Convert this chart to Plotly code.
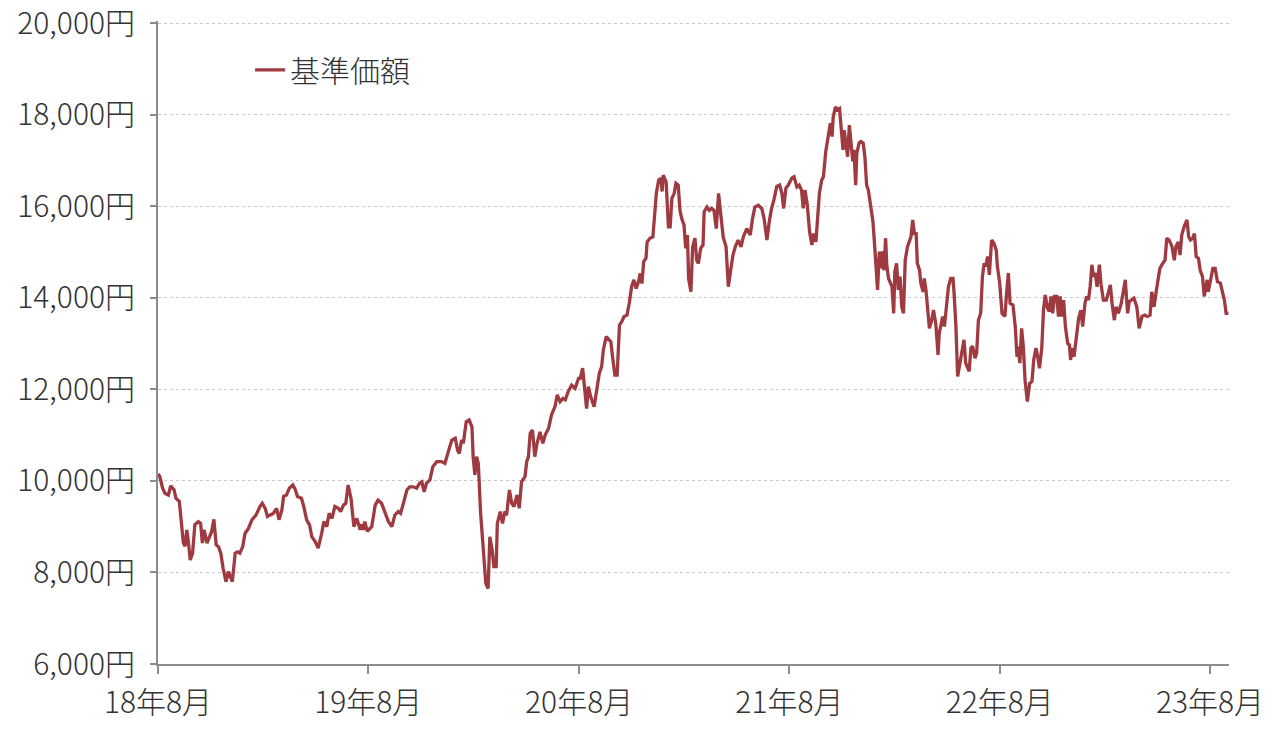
import pandas as pd
import plotly.graph_objects as go

# elapsed days since 2018-08-01 for each reading
days = [
    0, 3, 8, 12, 18, 22, 28, 31, 37, 41,
    44, 47, 50, 53, 56, 60, 64, 70, 74, 77,
    80, 85, 89, 93, 97, 101, 105, 109, 113, 118,
    122, 125, 129, 134, 138, 142, 147, 151, 157, 163,
    170, 177, 181, 186, 190, 194, 200, 206, 210, 215,
    218, 223, 228, 234, 238, 242, 249, 253, 258, 263,
    267, 273, 278, 284, 288, 293, 297, 302, 307, 313,
    317, 322, 326, 330, 335, 340, 345, 351, 354, 356,
    359, 363, 371, 377, 382, 388, 394, 400, 406, 411,
    417, 421, 426, 432, 437, 443, 449, 454, 458, 462,
    466, 472, 477, 484, 492, 498, 504, 510, 516, 520,
    523, 527, 530, 535, 540, 545, 547, 550, 553, 556,
    560, 564, 566, 569, 573, 576, 580, 583, 587, 589,
    594, 598, 602, 605, 610, 614, 618, 623, 627, 631,
    637, 640, 643, 646, 650, 654, 658, 663, 668, 672,
    678, 683, 689, 693, 698, 703, 707, 712, 718, 724,
    730, 733, 737, 741, 744, 747, 751, 757, 762, 766,
    770, 773, 778, 782, 786, 789, 793, 797, 801, 805,
    809, 814, 818, 822, 826, 830, 834, 837, 840, 843,
    847, 849, 854, 859, 861, 865, 869, 873, 875, 877,
    882, 884, 886, 889, 892, 896, 899, 903, 906, 909,
    913, 916, 919, 921, 925, 928, 932, 935, 938, 942,
    946, 948, 953, 957, 961, 965, 969, 973, 977, 981,
    986, 990, 994, 998, 1002, 1007, 1012, 1016, 1022, 1028,
    1032, 1036, 1042, 1048, 1052, 1057, 1061, 1065, 1069, 1074,
    1079, 1083, 1086, 1090, 1094, 1100, 1104, 1109, 1113, 1117,
    1120, 1123, 1127, 1131, 1135, 1138, 1142, 1145, 1148, 1152,
    1155, 1159, 1164, 1167, 1170, 1172, 1176, 1179, 1183, 1186,
    1189, 1191, 1194, 1197, 1200, 1203, 1206, 1208, 1211, 1213,
    1217, 1220, 1224, 1227, 1230, 1233, 1236, 1241, 1244, 1246,
    1249, 1252, 1255, 1257, 1260, 1263, 1265, 1268, 1271, 1274,
    1277, 1279, 1282, 1285, 1288, 1291, 1294, 1297, 1301, 1304,
    1307, 1310, 1313, 1316, 1318, 1322, 1324, 1328, 1330, 1333,
    1336, 1339, 1343, 1346, 1350, 1354, 1356, 1359, 1362, 1365,
    1369, 1372, 1376, 1380, 1382, 1385, 1388, 1391, 1395, 1399,
    1402, 1406, 1408, 1411, 1414, 1418, 1421, 1424, 1428, 1431,
    1434, 1437, 1440, 1443, 1447, 1451, 1455, 1457, 1461, 1465,
    1470, 1473, 1476, 1479, 1484, 1488, 1491, 1493, 1496, 1499,
    1502, 1505, 1509, 1513, 1517, 1520, 1524, 1527, 1530, 1534,
    1537, 1540, 1544, 1547, 1550, 1553, 1556, 1560, 1563, 1566,
    1569, 1572, 1575, 1579, 1582, 1584, 1587, 1590, 1594, 1598,
    1602, 1605, 1609, 1612, 1615, 1618, 1621, 1624, 1627, 1630,
    1634, 1637, 1641, 1646, 1650, 1653, 1656, 1660, 1663, 1667,
    1672, 1676, 1679, 1683, 1686, 1690, 1694, 1699, 1703, 1708,
    1713, 1717, 1722, 1725, 1729, 1733, 1735, 1739, 1744, 1748,
    1751, 1755, 1760, 1764, 1767, 1771, 1774, 1777, 1781, 1786,
    1789, 1792, 1796, 1799, 1802, 1806, 1809, 1813, 1816, 1821,
    1823, 1827, 1831, 1835, 1839, 1844, 1848, 1851, 1854, 1858,
]

# 基準価額 (yen)
nav = [
    10150, 10100, 9840, 9730, 9690, 9890, 9800, 9620, 9550, 9070,
    8640, 8570, 8930, 8640, 8270, 8420, 9040, 9110, 9070, 8640,
    8930, 8640, 8780, 8890, 9160, 8600, 8560, 8420, 8090, 7800,
    8020, 7940, 7800, 8420, 8450, 8420, 8560, 8850, 8960, 9150,
    9250, 9440, 9510, 9400, 9220, 9250, 9290, 9400, 9150, 9360,
    9660, 9690, 9840, 9910, 9820, 9660, 9620, 9440, 9150, 9040,
    8780, 8670, 8530, 8850, 9110, 9000, 9290, 9180, 9440, 9400,
    9330, 9470, 9510, 9910, 9620, 9000, 9180, 8930, 9050, 8930,
    9110, 8900, 9000, 9470, 9580, 9510, 9330, 9110, 9000, 9250,
    9330, 9290, 9510, 9800, 9870, 9870, 9840, 9950, 9980, 9760,
    9950, 10020, 10310, 10420, 10420, 10380, 10640, 10890, 10930, 10670,
    10600, 10890, 10820, 11290, 11330, 11180, 10530, 10130, 10530, 10380,
    9290, 8640, 8130, 7760, 7650, 8780, 8490, 8130, 8130, 9070,
    9330, 9070, 9330, 9250, 9800, 9510, 9440, 9690, 9400, 9980,
    10090, 10420, 10530, 11040, 11110, 10530, 10820, 11070, 10820, 11000,
    11150, 11440, 11620, 11880, 11730, 11800, 11770, 11950, 12090, 12020,
    12240, 12240, 12460, 11910, 11580, 12060, 11840, 11620, 11990, 12350,
    12490, 12860, 13150, 13080, 13040, 12710, 12310, 12310, 13400, 13480,
    13590, 13620, 13880, 14240, 14390, 14200, 14350, 14530, 14310, 14790,
    14860, 15220, 15300, 15330, 15620, 16280, 16570, 16610, 16320, 16680,
    16530, 16060, 15550, 15550, 16170, 16280, 16500, 16460, 15910, 15730,
    15590, 15080, 15370, 14420, 14130, 15110, 15300, 14820, 14750, 15080,
    15150, 15880, 15980, 15910, 15950, 15910, 15510, 16280, 15770, 15330,
    15110, 14240, 14600, 14930, 15110, 15260, 15110, 15330, 15510, 15370,
    15730, 15980, 16020, 15950, 15730, 15260, 15660, 15950, 16130, 16430,
    16460, 16280, 15950, 16400, 16460, 16610, 16640, 16420, 16460, 16350,
    15950, 16350, 16030, 15440, 15150, 15400, 15220, 15840, 16280, 16570,
    16640, 17190, 17550, 17810, 17520, 17950, 18170, 18100, 18130, 17590,
    17230, 17660, 17300, 17080, 17770, 17450, 16980, 17230, 16460, 17160,
    17380, 17410, 17380, 17080, 16460, 16350, 16060, 15660, 15120, 14750,
    14170, 15010, 14640, 15010, 14600, 15300, 14710, 14420, 14320, 14240,
    13660, 14570, 14750, 14170, 14460, 13800, 13660, 14820, 15120, 15220,
    15330, 15700, 15400, 15400, 14750, 14600, 14320, 14130, 14420, 14170,
    13660, 13330, 13510, 13730, 13440, 12750, 13220, 13370, 13590, 13370,
    13880, 14240, 14420, 14420, 14060, 13370, 12280, 12500, 12720, 13080,
    12570, 12430, 12390, 12900, 12940, 12680, 12790, 13510, 13660, 14460,
    14750, 14680, 14900, 14500, 15260, 15190, 15040, 14680, 14320, 13660,
    13590, 14100, 14540, 13880, 13840, 13370, 12710, 12930, 12570, 13330,
    12930, 12200, 11730, 12130, 12170, 12640, 12900, 12710, 12460, 12900,
    13730, 14060, 13770, 13700, 14030, 13660, 14030, 14030, 13590, 14030,
    13590, 13950, 13370, 13000, 12970, 12640, 12900, 12710, 13190, 13550,
    13730, 13370, 13880, 14030, 13950, 14240, 14720, 14460, 14540, 14240,
    14720, 14280, 13950, 13950, 14130, 14280, 13880, 13510, 13800, 13660,
    13880, 14170, 14390, 13660, 13920, 13950, 13990, 13800, 13330, 13590,
    13620, 13590, 13620, 14130, 13800, 14170, 14350, 14640, 14750, 14820,
    15300, 15260, 15120, 14820, 15120, 15220, 14930, 15370, 15550, 15700,
    15330, 15260, 15300, 15400, 14900, 14860, 14600, 14460, 14030, 14390,
    14130, 14390, 14640, 14640, 14350, 14320, 14100, 13950, 13660, 13660,
]

start_date = "2018-08-01"
end_date = "2023-09-03"
tick_dates = ["2018-08-01", "2019-08-01", "2020-08-01", "2021-08-01", "2022-08-01", "2023-08-01"]
tick_labels = ["18年8月", "19年8月", "20年8月", "21年8月", "22年8月", "23年8月"]
y_ticks = [6000, 8000, 10000, 12000, 14000, 16000, 18000, 20000]
y_labels = [f"{v:,}円" for v in y_ticks]
y_range = [6000, 20044]
series_name = "基準価額"

assert len(days) == len(nav)
dates = pd.Timestamp(start_date) + pd.to_timedelta(days, unit="D")

FONT = "Noto Sans CJK JP, Noto Sans, sans-serif"
TXT = "#333333"
AX = "#8c8c8c"

fig = go.Figure()
fig.add_trace(go.Scatter(
    x=dates, y=nav, mode="lines", name=series_name,
    line=dict(color="#9e3a40", width=3.3),
))

fig.update_layout(
    width=1280, height=733,
    margin=dict(l=158, r=51, t=21, b=69, autoexpand=False),
    paper_bgcolor="white", plot_bgcolor="white",
    font=dict(family=FONT, size=30, color=TXT, weight=300),
    showlegend=True,
    legend=dict(x=0.086, y=0.924, xanchor="left", yanchor="middle",
                bgcolor="rgba(0,0,0,0)", font=dict(size=30, color=TXT, weight=300)),
)
fig.update_xaxes(
    type="date", range=[start_date, end_date],
    tickvals=tick_dates, ticktext=tick_labels,
    showgrid=False, zeroline=False, automargin=False,
    showline=True, linecolor=AX, linewidth=2,
    ticks="outside", ticklen=8, tickwidth=2, tickcolor=AX,
    ticklabelstandoff=3, ticklabeloverflow="allow",
)
fig.update_yaxes(
    range=y_range, tickvals=y_ticks, ticktext=y_labels,
    showgrid=True, gridcolor="#c8c8c8", griddash="dot", gridwidth=1,
    zeroline=False, automargin=False,
    showline=True, linecolor=AX, linewidth=2,
    ticks="outside", ticklen=6, tickwidth=2, tickcolor=AX,
    ticklabelstandoff=9, ticklabeloverflow="allow",
)

fig.write_html(
    "out.html",
    config={"displayModeBar": False},
    post_script="document.body.style.margin='0';document.body.style.overflow='hidden';",
)
